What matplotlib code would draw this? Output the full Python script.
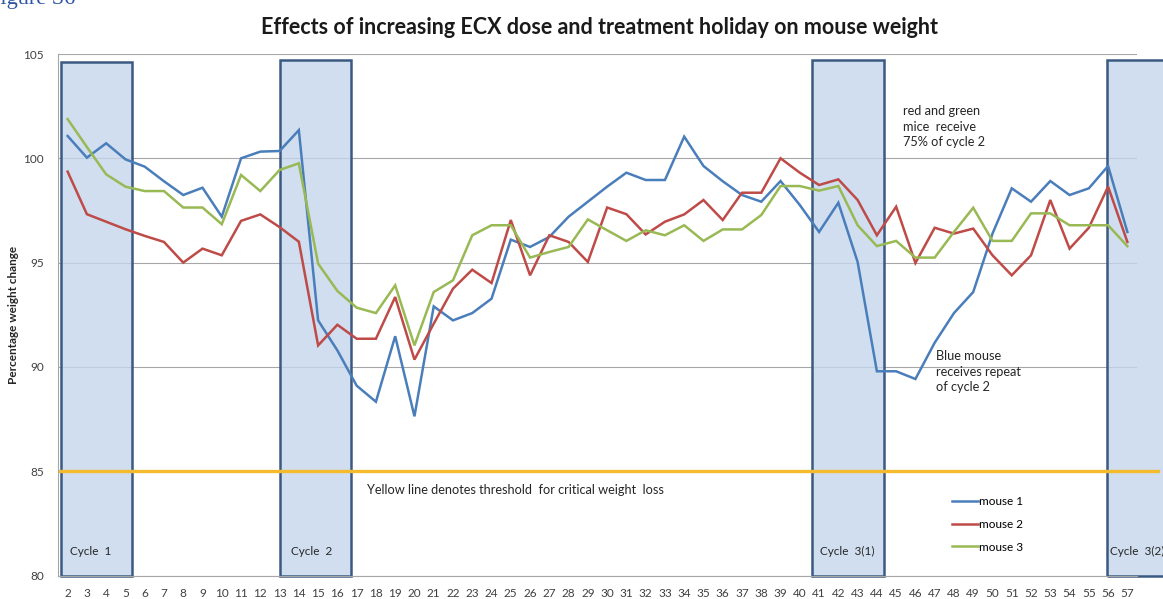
import matplotlib.pyplot as plt
from matplotlib.patches import Rectangle

# Percentage weight change per day
days = list(range(2, 58))
mouse1 = [101.07, 100.03, 100.72, 99.95, 99.6, 98.9, 98.24, 98.59, 97.2, 100.0,
          100.32, 100.35, 101.35, 92.23, 90.79, 89.1, 88.33, 91.47, 87.63, 92.9,
          92.23, 92.58, 93.27, 96.1, 95.75, 96.23, 97.2, 97.92, 98.64, 99.31,
          98.96, 98.96, 101.04, 99.63, 98.9, 98.24, 97.92, 98.91, 97.76, 96.47,
          97.87, 95.03, 89.79, 89.79, 89.42, 91.16, 92.58, 93.59, 96.39, 98.56,
          97.92, 98.91, 98.24, 98.56, 99.63, 96.47]
mouse2 = [99.36, 97.32, 96.96, 96.6, 96.28, 95.99, 95.0, 95.67, 95.35, 97.0,
          97.31, 96.7, 96.0, 91.03, 92.02, 91.35, 91.35, 93.35, 90.35, 92.07,
          93.75, 94.66, 94.02, 97.04, 94.39, 96.31, 95.99, 95.03, 97.64, 97.32,
          96.35, 96.96, 97.31, 98.0, 97.04, 98.35, 98.35, 100.0, 99.31, 98.72,
          98.99, 98.0, 96.31, 97.68, 94.98, 96.67, 96.39, 96.63, 95.35, 94.39,
          95.35, 98.0, 95.67, 96.67, 98.64, 95.99]
mouse3 = [101.88, 100.54, 99.23, 98.64, 98.43, 98.43, 97.64, 97.64, 96.84, 99.2,
          98.43, 99.44, 99.76, 94.95, 93.64, 92.84, 92.58, 93.91, 91.03, 93.59,
          94.15, 96.31, 96.79, 96.79, 95.24, 95.51, 95.75, 97.07, 96.55, 96.04,
          96.55, 96.31, 96.79, 96.04, 96.59, 96.59, 97.28, 98.67, 98.67, 98.45,
          98.67, 96.79, 95.79, 96.04, 95.24, 95.24, 96.47, 97.63, 96.04, 96.04,
          97.36, 97.36, 96.79, 96.79, 96.79, 95.79]
series_names = ['mouse 1', 'mouse 2', 'mouse 3']
threshold = 85

# treatment cycle boxes: label, start, end, top, label x (data units)
cycles = [('Cycle  1', 1.64, 5.36, 104.62, 2.12),
          ('Cycle  2', 13.02, 16.71, 104.7, 13.59),
          ('Cycle  3(1)', 40.61, 44.38, 104.7, 41.05),
          ('Cycle  3(2)', 55.96, 59.6, 104.7, 56.1)]

plt.rcParams['font.family'] = ['Lato', 'DejaVu Sans']

fig = plt.figure(figsize=(11.63, 5.99), dpi=100)
ax = fig.add_axes([58 / 1163, 1 - 575.5 / 599, (1137 - 58) / 1163, (575.5 - 54) / 599])

colors = ['#4a7ebb', '#be4b48', '#98b954']
for vals, name, c in zip([mouse1, mouse2, mouse3], series_names, colors):
    ax.plot(days, vals, color=c, lw=1.8, label=name, zorder=3, solid_joinstyle='miter')

for label, x0, x1, top, tx in cycles:
    ax.add_patch(Rectangle((x0, 80), x1 - x0, top - 80, facecolor='#c5d6ec', alpha=0.8,
                           edgecolor='none', zorder=1, clip_on=False))
    ax.add_patch(Rectangle((x0, 80), x1 - x0, top - 80, facecolor='none',
                           edgecolor='#3b5a82', lw=1.8, zorder=2, clip_on=False))
    ax.text(tx, 81.15, label, fontsize=8.5, color='#262626', va='center', zorder=4)

ax.plot([1.6, 58.6], [threshold, threshold], color='#f4bc2c', lw=2.4, zorder=2.5, clip_on=False)

ax.set_xlim(1.5, 57.5)
ax.set_ylim(80, 105)
ax.set_xticks(days)
ax.set_xticklabels([str(d) for d in days])
ax.set_yticks(range(80, 106, 5))
ax.tick_params(length=0, labelsize=8.5, labelcolor='#404040')
ax.tick_params(axis='y', pad=10)
ax.tick_params(axis='x', pad=9)
ax.grid(axis='y', color='#a6a6a6', lw=0.8, zorder=0)
ax.set_axisbelow(True)
for s in ['top', 'right']:
    ax.spines[s].set_visible(False)
for s in ['left', 'bottom']:
    ax.spines[s].set_color('#a6a6a6')
    ax.spines[s].set_linewidth(0.8)

ax.set_ylabel('Percentage weight change', fontsize=8.5, fontweight='bold', color='#262626')
ax.yaxis.set_label_coords(-0.036, 0.5)

ax.text(17.55, 84.09, 'Yellow line denotes threshold  for critical weight  loss',
        fontsize=9.2, color='#262626', va='center')
ax.text(45.35, 102.55, 'red and green\nmice  receive\n75% of cycle 2',
        fontsize=9.2, color='#262626', va='top', linespacing=1.35)
ax.text(47.07, 90.8, 'Blue mouse\nreceives repeat\nof cycle 2',
        fontsize=9.2, color='#262626', va='top', linespacing=1.35)

fig.suptitle('Effects of increasing ECX dose and treatment holiday on mouse weight',
             x=0.5155, y=1 - 17 / 599, va='top', fontsize=15.5, fontweight='bold', color='#1a1a1a')
fig.text(-0.01, 1 - 4 / 599, 'Figure S6', fontsize=16, color='#2b54a5',
         family='Liberation Serif', va='baseline')

ax.legend(loc='upper left', bbox_to_anchor=(946 / 1163, 1 - 490 / 599),
          bbox_transform=fig.transFigure, frameon=False, fontsize=8.5,
          handlelength=2.2, handletextpad=0.1, labelspacing=1.0, borderpad=0)

fig.savefig('out.png', dpi=100)
